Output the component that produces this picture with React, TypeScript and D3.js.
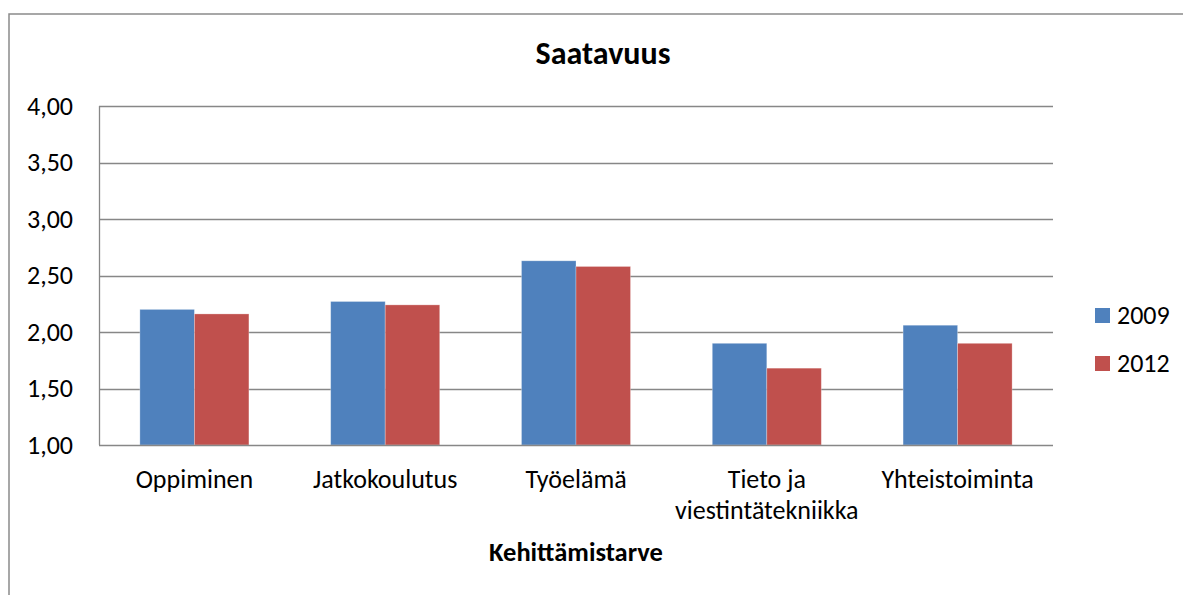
import React from "react";
import * as d3 from "d3";

const categories: string[][] = [
  ["Oppiminen"],
  ["Jatkokoulutus"],
  ["Työelämä"],
  ["Tieto ja", "viestintätekniikka"],
  ["Yhteistoiminta"],
];
const seriesNames = ["2009", "2012"];
const values2009 = [2.2, 2.27, 2.63, 1.9, 2.06];
const values2012 = [2.16, 2.24, 2.58, 1.68, 1.9];
const yTicks = [1.0, 1.5, 2.0, 2.5, 3.0, 3.5, 4.0];
const colors = ["#4F81BD", "#C0504D"];
const title = "Saatavuus";
const xTitle = "Kehittämistarve";

const W = 1183;
const H = 595;
const FONT = "Carlito, Calibri, Lato, 'Open Sans', sans-serif";

export default function App() {
  const left = 99, right = 1053, top = 106, bottom = 445;
  const y = d3.scaleLinear().domain([1, 4]).range([bottom, top]);
  const x0 = d3
    .scaleBand<number>()
    .domain(d3.range(categories.length))
    .range([left, right])
    .paddingInner(0)
    .paddingOuter(0);
  const step = x0.bandwidth();
  const barW = step / 3.5;
  const series = [values2009, values2012];
  const fmt = (v: number) => v.toFixed(2).replace(".", ",");

  return (
    <div style={{ position: "absolute", left: 0, top: 0 }}>
      <svg width={W} height={H} style={{ display: "block" }} fontFamily={FONT}>
        <rect x={0} y={0} width={W} height={H} fill="#fff" />
        <rect x={9} y={14} width={W + 20} height={H + 20} fill="none" stroke="#8a8a8a" strokeWidth={1.5} />
        <text x={603} y={64} textAnchor="middle" fontSize={32} fontWeight="bold" fill="#000">
          {title}
        </text>
        {yTicks.map((t) => (
          <g key={t}>
            {t > 1 && (
              <line x1={left} x2={right} y1={Math.round(y(t)) + 0.5} y2={Math.round(y(t)) + 0.5} stroke="#878787" strokeWidth={1.3} />
            )}
            <text x={73} y={y(t) + 8.5} textAnchor="end" fontSize={26} fill="#000">
              {fmt(t)}
            </text>
          </g>
        ))}
        {series.map((vals, si) =>
          vals.map((v, ci) => {
            const cx = (x0(ci) as number) + step / 2;
            const bx = cx - barW + si * barW;
            return (
              <rect
                key={`${si}-${ci}`}
                x={bx}
                y={y(v)}
                width={barW}
                height={y(1) - y(v)}
                fill={colors[si]}
                stroke="rgba(255,255,255,0.35)"
                strokeWidth={0.8}
              />
            );
          })
        )}
        <line x1={left + 0.5} x2={left + 0.5} y1={top} y2={bottom} stroke="#878787" strokeWidth={1.3} />
        <line x1={left} x2={right} y1={bottom + 0.5} y2={bottom + 0.5} stroke="#878787" strokeWidth={1.3} />
        {categories.map((lines, ci) => {
          const cx = (x0(ci) as number) + step / 2;
          return (
            <text key={ci} x={cx} textAnchor="middle" fontSize={26} fill="#000">
              {lines.map((l, li) => (
                <tspan key={li} x={cx} y={488 + li * 31}>
                  {l}
                </tspan>
              ))}
            </text>
          );
        })}
        <text x={(left + right) / 2} y={561} textAnchor="middle" fontSize={26.5} fontWeight="bold" fill="#000">
          {xTitle}
        </text>
        {seriesNames.map((s, i) => (
          <g key={s}>
            <rect x={1095} y={308 + i * 48} width={15} height={15} fill={colors[i]} />
            <text x={1117} y={324 + i * 48} fontSize={26} fill="#000">
              {s}
            </text>
          </g>
        ))}
      </svg>
    </div>
  );
}
